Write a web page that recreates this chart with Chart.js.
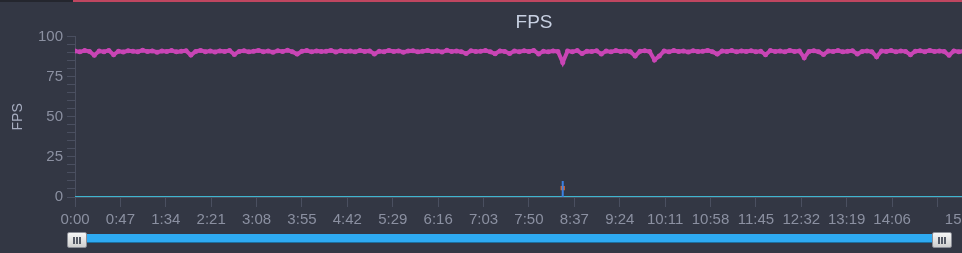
<!DOCTYPE html>
<html>
<head>
<meta charset="utf-8">
<script src="https://cdn.jsdelivr.net/npm/chart.js@4"></script>
<style>
  html, body { margin: 0; padding: 0; overflow: hidden; background: #333744; }
  #wrap { position: relative; width: 962px; height: 253px; overflow: hidden; }
  #graph { position: absolute; left: 0; top: 0; }
  .topbar { position: absolute; top: 0; height: 2px; }
  .track { position: absolute; left: 86px; top: 234px; width: 846px; height: 8px;
           background: #2eaaf2; border-bottom: 1px solid #1d6e9e; }
  .handle { position: absolute; top: 232px; width: 18px; height: 14px; border-radius: 2px;
            background: linear-gradient(#f6f6f6, #cfcfcf); border: 1px solid #8a8d96; }
  .handle i { position: absolute; top: 4px; width: 2px; height: 7px; background: #555a66; }
</style>
</head>
<body>
<div id="wrap">
  <canvas id="graph" width="1068" height="253"></canvas>
  <div class="topbar" style="left:0;width:73px;background:#24262e"></div>
  <div class="topbar" style="left:73px;width:889px;background:#bf4660"></div>
  <div class="track"></div>
  <div class="handle" style="left:67px"><i style="left:5px"></i><i style="left:8px"></i><i style="left:11px"></i></div>
  <div class="handle" style="left:932px"><i style="left:5px"></i><i style="left:8px"></i><i style="left:11px"></i></div>
</div>
<script>
// muestreo cada 5 segundos (0:00 ... 15:20)
const sampleStep = 5;
const fpsValues = [
  91.2, 90.6, 91.4, 90.9, 88.5, 91.1, 90.7, 91.5, 88.8, 91.0,
  90.5, 91.3, 91.0, 90.7, 91.6, 90.9, 91.2, 90.4, 91.1, 90.8,
  91.4, 90.6, 91.0, 91.3, 88.6, 90.9, 91.5, 90.7, 91.1, 90.5,
  91.2, 90.8, 91.4, 89.0, 90.9, 91.3, 90.6, 91.0, 91.5, 90.7,
  91.1, 90.4, 91.3, 90.9, 91.6, 90.7, 89.2, 91.0, 91.4, 90.6,
  91.2, 90.8, 91.0, 91.5, 90.5, 91.3, 90.9, 91.1, 90.6, 91.4,
  90.8, 91.2, 89.3, 91.0, 90.7, 91.5, 90.9, 91.2, 90.4, 91.1,
  91.3, 90.6, 91.0, 91.4, 90.8, 91.2, 90.5, 91.6, 90.9, 91.1,
  90.7, 89.5, 91.3, 90.9, 91.0, 91.4, 90.6, 89.4, 91.2, 90.8,
  89.5, 91.1, 90.7, 91.3, 90.9, 91.5, 89.3, 91.0, 90.6, 91.2,
  90.8, 84.0, 91.1, 90.7, 91.4, 89.5, 91.0, 90.8, 91.3, 89.3,
  91.1, 90.6, 91.4, 90.9, 91.2, 90.7, 88.0, 91.0, 91.3, 90.8,
  85.5, 88.0, 91.2, 90.6, 91.4, 90.9, 91.1, 90.5, 91.3, 90.8,
  91.0, 91.5, 90.7, 89.2, 91.1, 90.9, 91.4, 90.6, 91.2, 90.8,
  91.3, 90.7, 91.0, 88.8, 91.4, 90.9, 91.1, 90.6, 91.5, 90.8,
  91.2, 87.0, 90.9, 91.3, 90.7, 89.0, 91.1, 90.8, 91.4, 90.6,
  91.0, 91.3, 89.3, 90.9, 91.2, 90.7, 87.5, 91.1, 90.8, 91.4,
  90.6, 91.2, 90.9, 88.8, 91.0, 91.3, 90.7, 91.5, 90.9, 91.1,
  90.8, 88.5, 91.2, 90.7, 91.0
];

// linea base (cyan)
const baseTimes = [0, 920];
const baseValues = [0, 0];

// pico azul + marca naranja
const spikeTime = 505;
const spikeValues = [0, 10];
const markerValue = 5.5;

// eje x
const tickSeconds = [0, 47, 94, 141, 188, 235, 282, 329, 376, 423, 470, 517, 564, 611, 658, 705, 752, 799, 846, 893, 920];
const tickLabels = ["0:00", "0:47", "1:34", "2:21", "3:08", "3:55", "4:42", "5:29", "6:16", "7:03", "7:50", "8:37",
                    "9:24", "10:11", "10:58", "11:45", "12:32", "13:19", "14:06", "", "15:20"];

const fpsPoints = fpsValues.map((v, i) => ({ x: i * sampleStep, y: v }));
const basePoints = baseTimes.map((t, i) => ({ x: t, y: baseValues[i] }));
const spikePoints = spikeValues.map(v => ({ x: spikeTime, y: v }));

const tickColor = '#4a4f60';
const labelColor = '#8b90a1';
const fontFam = '"Liberation Sans", Arial, sans-serif';

const ctx = document.getElementById('graph').getContext('2d');
new Chart(ctx, {
  type: 'line',
  data: {
    datasets: [
      {
        data: fpsPoints,
        borderColor: '#c945b5',
        backgroundColor: '#c945b5',
        borderWidth: 4,
        pointRadius: 2.5,
        pointBorderWidth: 0,
        order: 3
      },
      {
        data: basePoints,
        borderColor: '#3fb5cf',
        borderWidth: 2,
        pointRadius: 0,
        order: 2
      },
      {
        data: [{ x: spikeTime, y: markerValue }],
        showLine: false,
        pointStyle: 'rect',
        pointRadius: 3,
        pointBorderWidth: 0,
        backgroundColor: '#e2692e',
        order: 1
      },
      {
        data: spikePoints,
        borderColor: '#3c80e0',
        borderWidth: 2,
        pointRadius: 0,
        order: 0
      }
    ]
  },
  options: {
    responsive: false,
    animation: false,
    layout: { padding: { left: 0, right: 0, top: 0, bottom: 26 } },
    plugins: {
      legend: { display: false },
      tooltip: { enabled: false },
      title: {
        display: true,
        text: 'FPS',
        color: '#c8d0e2',
        font: { family: fontFam, size: 19, weight: 'normal' },
        padding: { top: 11, bottom: 3 }
      }
    },
    scales: {
      x: {
        type: 'linear',
        min: 0,
        max: 1024,
        afterBuildTicks: (scale) => { scale.ticks = tickSeconds.map(v => ({ value: v })); },
        afterFit: (scale) => { scale.height = 30; },
        grid: { drawOnChartArea: false, color: tickColor, tickLength: 10 },
        border: { display: true, color: tickColor },
        ticks: {
          autoSkip: false,
          maxRotation: 0,
          padding: 4,
          color: labelColor,
          font: { family: fontFam, size: 15 },
          callback: (v) => tickLabels[tickSeconds.indexOf(v)]
        }
      },
      y: {
        min: 0,
        max: 100,
        afterFit: (scale) => { scale.width = 75; },
        grid: { drawOnChartArea: false, color: tickColor, tickLength: 8 },
        border: { display: true, color: tickColor },
        title: {
          display: true,
          text: 'FPS',
          color: '#a7adc0',
          font: { family: fontFam, size: 14 },
          padding: { top: 10, bottom: 0 }
        },
        ticks: {
          stepSize: 5,
          autoSkip: false,
          padding: 4,
          color: labelColor,
          font: { family: fontFam, size: 15 },
          callback: (v) => (v % 25 === 0 ? v : '')
        }
      }
    }
  }
});
</script>
</body>
</html>
